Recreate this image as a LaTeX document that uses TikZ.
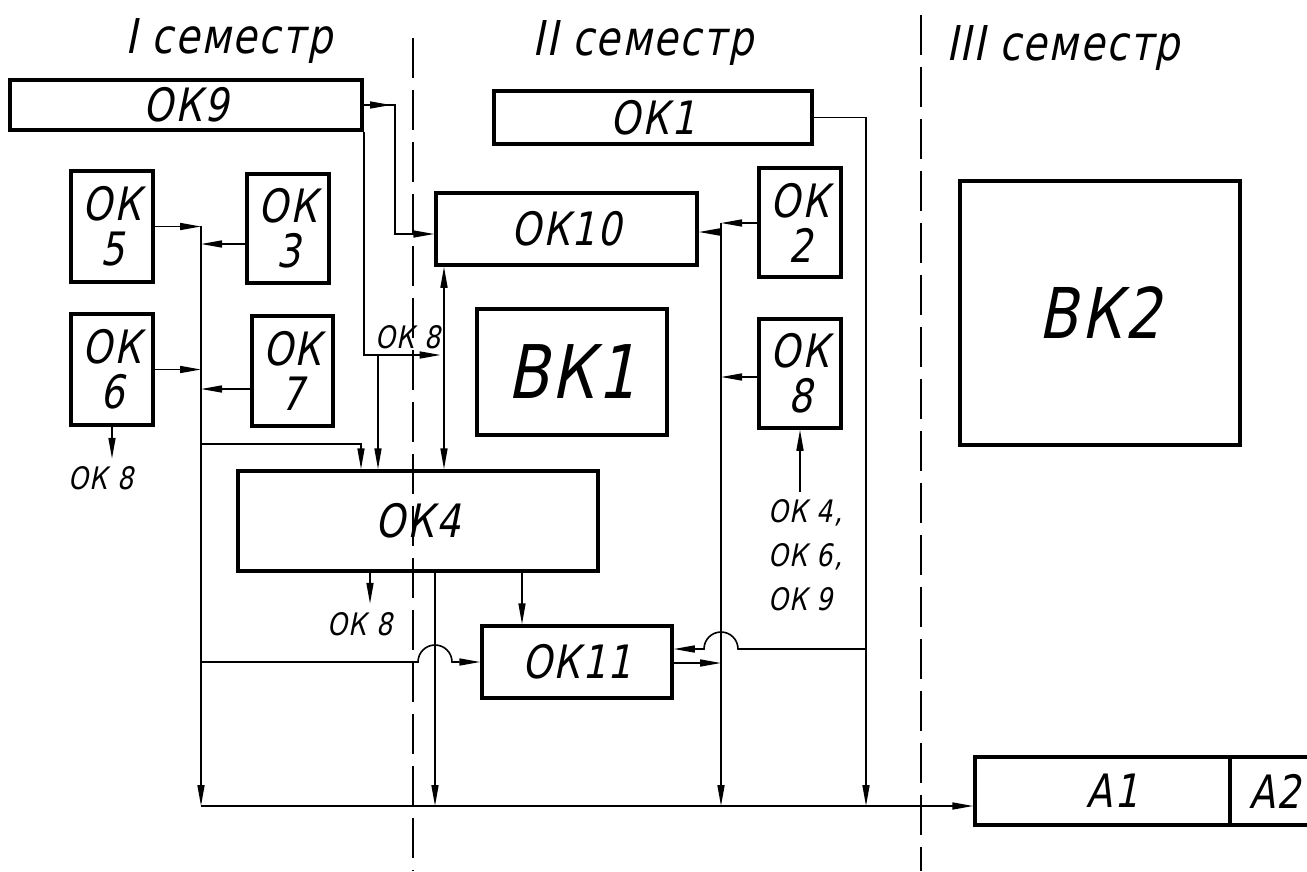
\documentclass[tikz,border=0pt]{standalone}
\usepackage{fontspec}
\newfontfamily\gost{DejaVu Sans}[FakeStretch=0.82,FakeSlant=0.2,LetterSpace=4]
\usetikzlibrary{arrows.meta}
\begin{document}
\begin{tikzpicture}[x=1pt,y=-1pt,
  box/.style={draw, line width=3.5pt, inner sep=0pt, align=center, font=\gost\fontsize{46}{45}\selectfont},
  con/.style={line width=1.6pt},
  arr/.style={con, -{Triangle[length=21pt,width=7pt]}},
  barr/.style={con, {Triangle[length=21pt,width=7pt]}-{Triangle[length=21pt,width=7pt]}},
  lbl/.style={font=\gost\fontsize{31}{44}\selectfont, inner sep=0pt, align=left},
  hdr/.style={font=\gost\fontsize{48}{50}\selectfont, inner sep=0pt, anchor=base},
  sep/.style={line width=1.6pt, dash pattern=on 40pt off 12pt}]
\useasboundingbox (0,0) rectangle (1307,871);
\fill[white] (0,0) rectangle (1307,871);
\clip (0,0) rectangle (1307,871);

% headers
\node[hdr] (s1) at (229,53) {I семестр};
\node[hdr] (s2) at (643,55) {II семестр};
\node[hdr] (s3) at (1063,60) {III семестр};

% separators
\draw[sep] (413,38) -- (413,871);
\draw[sep] (921,15) -- (921,871);

% boxes
\node[box, minimum width=352pt, minimum height=50pt] (ok9) at (186,105) {ОК9};
\node[box, minimum width=318pt, minimum height=53pt] (ok1) at (653,117.5) {ОК1};
\node[box, minimum width=261pt, minimum height=72pt] (ok10) at (566.5,229) {ОК10};
\node[box, minimum width=82pt, minimum height=109pt] (ok2) at (800,222.5) {ОК\\2};
\node[box, minimum width=82pt, minimum height=109pt] (ok8) at (800,373.5) {ОК\\8};
\node[box, minimum width=190pt, minimum height=126pt, font=\gost\fontsize{74}{74}\selectfont] (bk1) at (572,372) {ВК1};
\node[box, minimum width=280pt, minimum height=264pt, font=\gost\fontsize{70}{70}\selectfont] (bk2) at (1100,313) {ВК2};
\node[box, minimum width=82pt, minimum height=111pt] (ok5) at (112,226.5) {ОК\\5};
\node[box, minimum width=82pt, minimum height=109pt] (ok3) at (288,228.5) {ОК\\3};
\node[box, minimum width=82pt, minimum height=111pt] (ok6) at (112,369.5) {ОК\\6};
\node[box, minimum width=81pt, minimum height=110pt] (ok7) at (292.5,371) {ОК\\7};
\node[box, minimum width=360pt, minimum height=100pt] (ok4) at (418,521) {ОК4};
\node[box, minimum width=190pt, minimum height=72pt] (ok11) at (577,662) {ОК11};
\node[box, minimum width=255pt, minimum height=68pt] (a1) at (1102.5,791) {\hspace*{20pt}А1};
\node[box, minimum width=90pt, minimum height=68pt] (a2) at (1275,791) {А2};

% labels
\node[lbl] (l8a) at (408,337) {ОК 8};
\node[lbl] (l8b) at (101,478) {ОК 8};
\node[lbl] (l8c) at (360,624) {ОК 8};
\node[lbl, anchor=north west] (l8d) at (768,499) {ОК 4,\\ОК 6,\\ОК 9};

% named junctions
\coordinate (j9) at (395,105);
\coordinate (k9) at (363,355);
\coordinate (lbT) at (201,226);
\coordinate (lbB) at (201,806);
\coordinate (rbT) at (721,223);
\coordinate (rbB) at (721,806);
\coordinate (o1B) at (866,806);

% OK9 -> OK10
\draw[arr] (ok9.east) -- (j9) |- (ok10.west |- 0,234);
\draw[arr] (ok9.east) -- ([xshift=-4pt]j9);
% OK9 -> OK 8 label, OK4
\draw[arr] (ok9.south east) |- (l8a.south east |- k9);
\draw[arr] (k9 -| 378,0) -- (ok4.north -| 378,0);
% OK10 <-> OK4
\draw[barr] (ok10.south -| 444,0) -- (ok4.north -| 444,0);

% left bus
\draw[arr] (ok5.east) -- (ok5.east -| lbT);
\draw[arr] (ok3.west |- 0,244) -- (lbT |- 0,244);
\draw[arr] (lbT) -- (lbB);
\draw[arr] (ok6.east) -- (ok6.east -| lbT);
\draw[arr] (ok7.west |- 0,389) -- (lbT |- 0,389);
\draw[arr] (lbT |- 0,444) -| (ok4.north -| 361,0);
\draw[arr] (ok6.south) -- ++(0,32);

% OK4 outputs
\draw[arr] (ok4.south -| 370,0) -- ++(0,31);
\draw[arr] (ok4.south -| 435,0) -- (lbB -| 435,0);
\draw[arr] (ok4.south -| 522,0) -- (ok11.north -| 522,0);
\draw[arr] (lbT |- ok11.west) -- (418,662) arc[start angle=180,end angle=0,radius=17pt] -- (ok11.west);

% right bus
\draw[arr] (ok2.west |- rbT) -- (rbT);
\draw[arr] (rbT) -- (rbB);
\draw[arr] (rbT |- 0,232) -- (ok10.east |- 0,232);
\draw[arr] (ok8.west |- 0,377) -- (rbT |- 0,377);
\draw[arr] (ok11.east |- 0,663) -- (rbT |- 0,663);

% OK1
\draw[arr] (ok1.east) -| (o1B);
\draw[arr] (o1B |- 0,649) -- (738,649) arc[start angle=0,end angle=180,radius=17pt] -- (ok11.east |- 0,649);

% OK 4,6,9 -> OK8
\draw[arr] (800,492) -- (ok8.south);

% bottom bus
\draw[arr] (lbB) -- (a1.west |- lbB);
\end{tikzpicture}
\end{document}
